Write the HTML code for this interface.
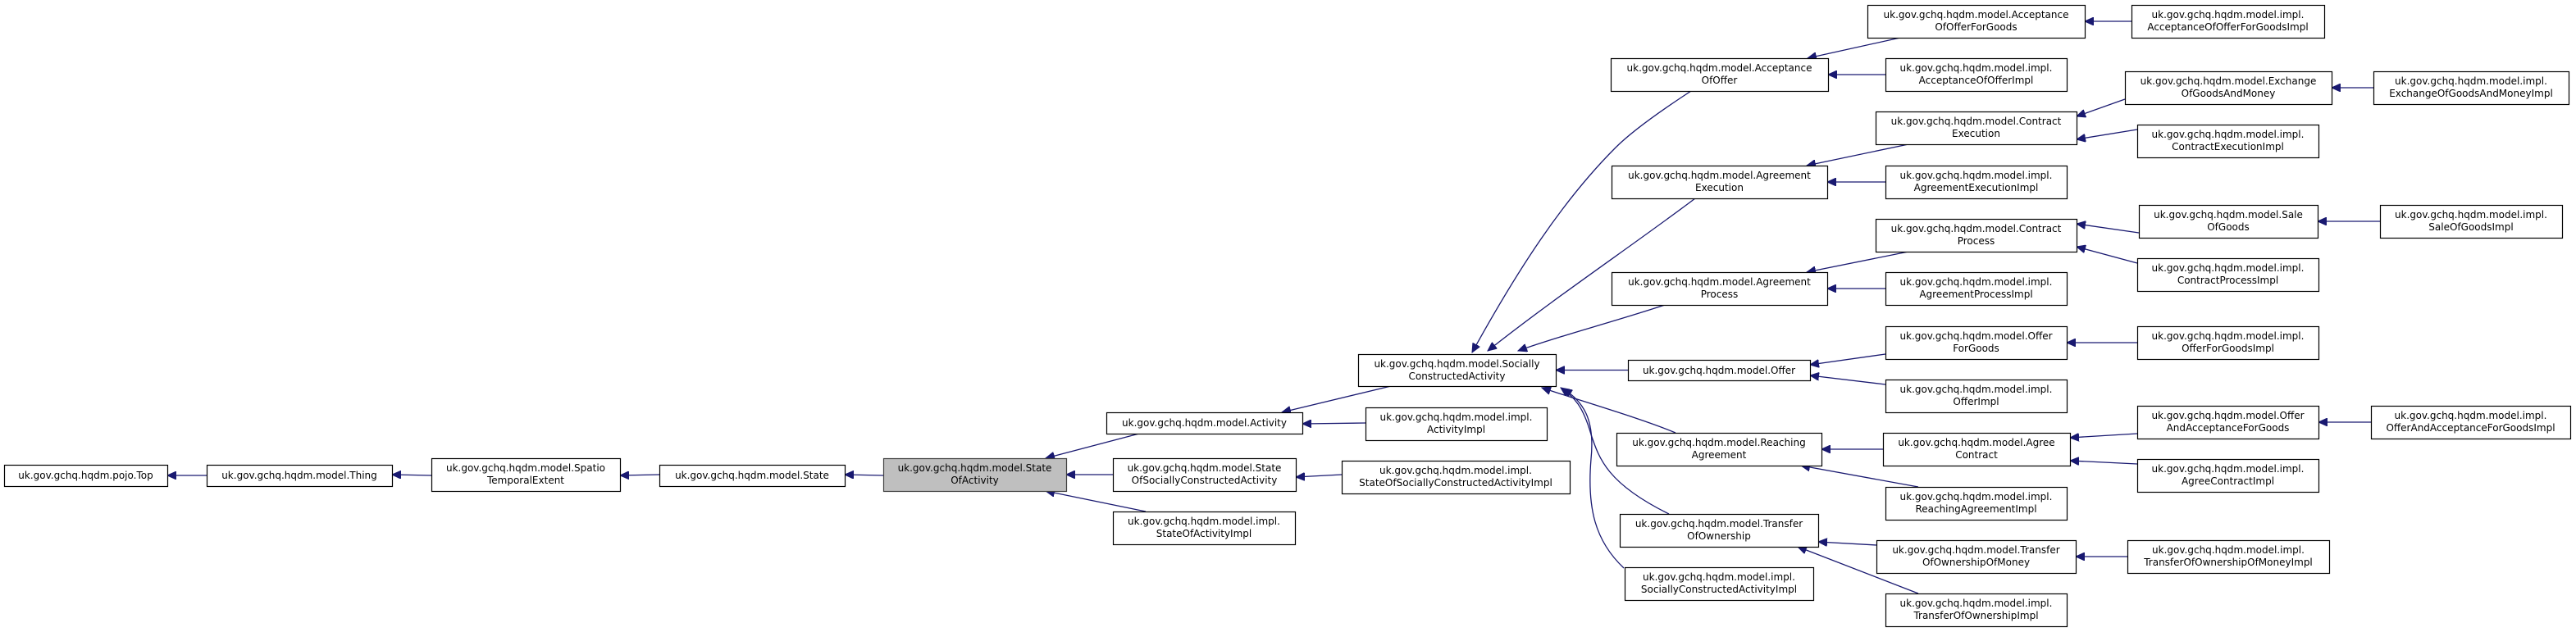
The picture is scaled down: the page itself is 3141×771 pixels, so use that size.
<!DOCTYPE html>
<html><head><meta charset="utf-8"><style>
html,body{margin:0;padding:0;background:#fff;}
svg{display:block;}
text{font-family:"DejaVu Sans","Liberation Sans",sans-serif;font-size:12px;fill:#000;}
</style></head><body>
<svg id="g" width="3141" height="771" viewBox="0 0 3141 771" xmlns="http://www.w3.org/2000/svg">
<defs><marker id="a" markerWidth="12" markerHeight="10" refX="11" refY="5" orient="auto" markerUnits="userSpaceOnUse"><path d="M0,0 L11,5 L0,10 Z" fill="#191970" stroke="#191970"/></marker></defs>
<g id="edges" fill="none" stroke="#191970" stroke-width="1.3"></g>
<g id="nodes"></g>
</svg>
<script>
var N={
Top:[5,567,199,26,["uk.gov.gchq.hqdm.pojo.Top"]],
Thing:[252,567,226,26,["uk.gov.gchq.hqdm.model.Thing"]],
Spatio:[526,559,230,40,["uk.gov.gchq.hqdm.model.Spatio","TemporalExtent"]],
State:[804,567,226,26,["uk.gov.gchq.hqdm.model.State"]],
SoA:[1077,559,223,40,["uk.gov.gchq.hqdm.model.State","OfActivity"],1],
Act:[1349,503,239,26,["uk.gov.gchq.hqdm.model.Activity"]],
ActI:[1665,497,221,40,["uk.gov.gchq.hqdm.model.impl.","ActivityImpl"]],
SoSCA:[1357,559,223,40,["uk.gov.gchq.hqdm.model.State","OfSociallyConstructedActivity"]],
SoSCAI:[1636,562,278,40,["uk.gov.gchq.hqdm.model.impl.","StateOfSociallyConstructedActivityImpl"]],
SoAI:[1357,624,222,40,["uk.gov.gchq.hqdm.model.impl.","StateOfActivityImpl"]],
SCA:[1656,432,241,39,["uk.gov.gchq.hqdm.model.Socially","ConstructedActivity"]],
AOFG:[2277,6,265,40,["uk.gov.gchq.hqdm.model.Acceptance","OfOfferForGoods"]],
AOFGI:[2599,6,235,40,["uk.gov.gchq.hqdm.model.impl.","AcceptanceOfOfferForGoodsImpl"]],
AO:[1964,71,265,40,["uk.gov.gchq.hqdm.model.Acceptance","OfOffer"]],
AOI:[2299,71,221,40,["uk.gov.gchq.hqdm.model.impl.","AcceptanceOfOfferImpl"]],
EX:[2591,87,252,40,["uk.gov.gchq.hqdm.model.Exchange","OfGoodsAndMoney"]],
EXI:[2894,87,238,40,["uk.gov.gchq.hqdm.model.impl.","ExchangeOfGoodsAndMoneyImpl"]],
CE:[2287,136,245,40,["uk.gov.gchq.hqdm.model.Contract","Execution"]],
CEI:[2606,152,221,40,["uk.gov.gchq.hqdm.model.impl.","ContractExecutionImpl"]],
AE:[1965,202,263,40,["uk.gov.gchq.hqdm.model.Agreement","Execution"]],
AEI:[2299,202,221,40,["uk.gov.gchq.hqdm.model.impl.","AgreementExecutionImpl"]],
SG:[2608,250,218,40,["uk.gov.gchq.hqdm.model.Sale","OfGoods"]],
SGI:[2902,250,222,40,["uk.gov.gchq.hqdm.model.impl.","SaleOfGoodsImpl"]],
CP:[2287,267,245,40,["uk.gov.gchq.hqdm.model.Contract","Process"]],
CPI:[2606,315,221,40,["uk.gov.gchq.hqdm.model.impl.","ContractProcessImpl"]],
AP:[1965,332,263,40,["uk.gov.gchq.hqdm.model.Agreement","Process"]],
API:[2299,332,221,40,["uk.gov.gchq.hqdm.model.impl.","AgreementProcessImpl"]],
OFG:[2299,398,221,40,["uk.gov.gchq.hqdm.model.Offer","ForGoods"]],
OFGI:[2606,398,221,40,["uk.gov.gchq.hqdm.model.impl.","OfferForGoodsImpl"]],
OF:[1985,439,222,25,["uk.gov.gchq.hqdm.model.Offer"]],
OFI:[2299,463,221,40,["uk.gov.gchq.hqdm.model.impl.","OfferImpl"]],
OAA:[2606,495,221,40,["uk.gov.gchq.hqdm.model.Offer","AndAcceptanceForGoods"]],
OAAI:[2891,495,243,40,["uk.gov.gchq.hqdm.model.impl.","OfferAndAcceptanceForGoodsImpl"]],
RA:[1971,528,250,40,["uk.gov.gchq.hqdm.model.Reaching","Agreement"]],
AC:[2296,528,228,40,["uk.gov.gchq.hqdm.model.Agree","Contract"]],
ACI:[2606,560,221,40,["uk.gov.gchq.hqdm.model.impl.","AgreeContractImpl"]],
RAI:[2299,594,221,40,["uk.gov.gchq.hqdm.model.impl.","ReachingAgreementImpl"]],
TO:[1975,627,242,40,["uk.gov.gchq.hqdm.model.Transfer","OfOwnership"]],
TOM:[2288,659,243,40,["uk.gov.gchq.hqdm.model.Transfer","OfOwnershipOfMoney"]],
TOMI:[2594,659,246,40,["uk.gov.gchq.hqdm.model.impl.","TransferOfOwnershipOfMoneyImpl"]],
SCAI:[1981,692,230,40,["uk.gov.gchq.hqdm.model.impl.","SociallyConstructedActivityImpl"]],
TOI:[2299,724,221,40,["uk.gov.gchq.hqdm.model.impl.","TransferOfOwnershipImpl"]]
};
var NS="http://www.w3.org/2000/svg";
var ng=document.getElementById("nodes"),eg=document.getElementById("edges");
for(var k in N){var n=N[k];
 var r=document.createElementNS(NS,"rect");
 r.setAttribute("x",n[0]+.5);r.setAttribute("y",n[1]+.5);r.setAttribute("width",n[2]);r.setAttribute("height",n[3]);
 r.setAttribute("fill",n[5]?"#bfbfbf":"#fff");r.setAttribute("stroke",n[5]?"#404040":"#000");r.setAttribute("stroke-width","1.2");
 ng.appendChild(r);
 var L=n[4];
 for(var i=0;i<L.length;i++){var t=document.createElementNS(NS,"text");
  t.setAttribute("x",n[0]+n[2]/2);t.setAttribute("text-anchor","middle");
  t.setAttribute("y",L.length==1?n[1]+17:n[1]+16+i*15);
  t.textContent=L[i];ng.appendChild(t);
  var w=t.getComputedTextLength();
  if(w>n[2]-12){t.setAttribute("textLength",n[2]-12);t.setAttribute("lengthAdjust","spacingAndGlyphs");}
 }
}
function P(d){var p=document.createElementNS(NS,"path");p.setAttribute("d",d);p.setAttribute("marker-end","url(#a)");eg.appendChild(p);}
function E(c,p){var C=N[c],Q=N[p];
 var cy=C[1]+C[3]/2,py=Q[1]+Q[3]/2;
 if(C[1]>=Q[1]+Q[3]-2){ // child below
   if(C[1]-(Q[1]+Q[3])>12){P("M"+(C[0]+40)+","+C[1]+" L"+(Q[0]+Q[2]-25)+","+(Q[1]+Q[3]));return;}
 }
 if(C[1]+C[3]<=Q[1]+2){
   if(Q[1]-(C[1]+C[3])>12){P("M"+(C[0]+40)+","+(C[1]+C[3])+" L"+(Q[0]+Q[2]-25)+","+Q[1]);return;}
 }
 var sy=Math.max(C[1]+6,Math.min(C[1]+C[3]-6,py));
 var ey=Math.max(Q[1]+6,Math.min(Q[1]+Q[3]-6,cy));
 P("M"+C[0]+","+sy+" L"+(Q[0]+Q[2])+","+ey);
}
[["Thing","Top"],["Spatio","Thing"],["State","Spatio"],["SoA","State"],["Act","SoA"],["SoSCA","SoA"],["SoAI","SoA"],
["ActI","Act"],["SCA","Act"],["SoSCAI","SoSCA"],["OF","SCA"],
["AOFG","AO"],["AOI","AO"],["AOFGI","AOFG"],["CE","AE"],["AEI","AE"],["EX","CE"],["CEI","CE"],["EXI","EX"],
["CP","AP"],["API","AP"],["SG","CP"],["CPI","CP"],["SGI","SG"],["OFG","OF"],["OFI","OF"],["OFGI","OFG"],
["AC","RA"],["RAI","RA"],["OAA","AC"],["ACI","AC"],["OAAI","OAA"],["TOM","TO"],["TOI","TO"],["TOMI","TOM"]
].forEach(function(e){E(e[0],e[1]);});
// curved edges into SociallyConstructedActivity
P("M2062,111 C2010,145 1985,165 1970,180 C1905,245 1850,330 1795,430");
P("M2067,242 C1990,300 1900,360 1814,428");
P("M2030,372 C1960,395 1900,410 1851,428");
P("M2043,528 C2000,510 1930,490 1880,473");
P("M2035,627 C1960,590 1950,560 1940,530 C1930,495 1920,485 1903,473");
P("M1980,693 C1945,660 1935,620 1940,560 C1945,510 1930,490 1906,474");
</script>
</body></html>
